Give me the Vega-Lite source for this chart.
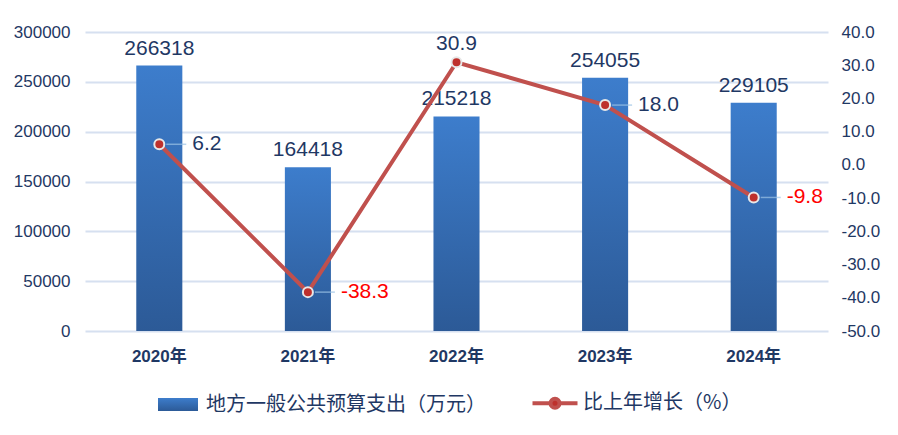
{
  "$schema": "https://vega.github.io/schema/vega-lite/v6.json",
  "width": 743,
  "height": 299,
  "autosize": {"type": "none"},
  "padding": {"left": 85, "top": 32, "right": 70, "bottom": 104},
  "background": "white",
  "config": {
    "view": {"stroke": null},
    "font": "Liberation Sans",
    "locale": {"number": {"decimal": ".", "thousands": ",", "grouping": [3], "currency": ["$", ""], "minus": "-"}},
    "axis": {"domain": false, "ticks": false, "title": null, "labelColor": "#1F3864", "labelOverlap": false}
  },
  "data": {
    "values": [
      {"year": "2020年", "value": 266318, "growth": 6.2},
      {"year": "2021年", "value": 164418, "growth": -38.3},
      {"year": "2022年", "value": 215218, "growth": 30.9},
      {"year": "2023年", "value": 254055, "growth": 18.0},
      {"year": "2024年", "value": 229105, "growth": -9.8}
    ]
  },
  "encoding": {
    "x": {
      "field": "year", "type": "nominal", "sort": null,
      "scale": {"paddingInner": 0.69, "paddingOuter": 0.345},
      "axis": {"labelAngle": 0, "labelFont": "Liberation Sans, Noto Sans CJK SC", "labelFontWeight": "bold", "labelFontSize": 17, "labelPadding": 17}
    }
  },
  "layer": [
    {
      "encoding": {
        "y": {
          "field": "value", "type": "quantitative",
          "scale": {"domain": [0, 300000], "nice": false},
          "axis": {"orient": "left", "values": [0, 50000, 100000, 150000, 200000, 250000, 300000], "grid": true, "gridColor": "#D6E0F0", "gridWidth": 2, "labelFontSize": 17, "labelPadding": 15, "labelOverlap": false, "format": "d"}
        }
      },
      "layer": [
        {
          "mark": {
            "type": "bar",
            "color": {"gradient": "linear", "x1": 0, "y1": 0, "x2": 0, "y2": 1, "stops": [{"offset": 0, "color": "#3D7DCC"}, {"offset": 1, "color": "#2C5A97"}]}
          }
        },
        {
          "mark": {"type": "text", "baseline": "bottom", "dy": -7, "fontSize": 21, "color": "#1F3864"},
          "encoding": {
            "text": {"field": "value", "type": "quantitative", "format": "d"}
          }
        }
      ]
    },
    {
      "encoding": {
        "y": {
          "field": "growth", "type": "quantitative",
          "scale": {"domain": [-50, 40], "nice": false},
          "axis": {"orient": "right", "values": [-50, -40, -30, -20, -10, 0, 10, 20, 30, 40], "format": ".1f", "grid": false, "labelFontSize": 17, "labelPadding": 13, "labelOverlap": false}
        }
      },
      "layer": [
        {
          "mark": {"type": "line", "strokeWidth": 4},
          "encoding": {
            "color": {
              "datum": "比上年增长（%）",
              "scale": {
                "domain": ["地方一般公共预算支出（万元）", "比上年增长（%）"],
                "range": ["#3670BA", "#C0504D"]
              },
              "legend": {
                "title": null,
                "orient": "none",
                "legendX": 83,
                "legendY": 361,
                "direction": "horizontal",
                "columnPadding": 38,
                "labelFont": "Noto Sans CJK SC",
                "labelFontSize": 20,
                "labelColor": "#1F3864",
                "labelLimit": 400,
                "labelOffset": 18,
                "symbolSize": 2025,
                "encode": {
                  "symbols": {
                    "update": {
                      "shape": {"signal": "datum.value === '比上年增长（%）' ? 'M-1,0H-0.25M0.25,0H1M0.2,0A0.2,0.2 0 1,1 -0.2,0A0.2,0.2 0 1,1 0.2,0Z' : 'M-1,-0.33H1V0.33H-1Z'"},
                      "size": {"signal": "datum.value === '比上年增长（%）' ? 2025 : 1600"},
                      "strokeWidth": {"signal": "datum.value === '比上年增长（%）' ? 4 : 0"},
                      "stroke": {"signal": "datum.value === '比上年增长（%）' ? '#C0504D' : 'transparent'"},
                      "fill": {"signal": "datum.value === '比上年增长（%）' ? '#BE302C' : {gradient: 'linear', x1: 0, y1: 0, x2: 0, y2: 1, stops: [{offset: 0, color: '#3D7DCC'}, {offset: 1, color: '#2C5A97'}]}"},
                      "opacity": {"value": 1}
                    }
                  }
                }
              }
            }
          }
        },
        {
          "transform": [{"filter": "datum.year !== '2022年'"}],
          "mark": {"type": "tick", "orient": "horizontal", "size": 20, "thickness": 1.5, "xOffset": 17, "color": "#9DC3E6"}
        },
        {
          "mark": {"type": "point", "filled": true, "size": 100, "fill": "#BE302C", "stroke": "#E8E8E8", "strokeWidth": 2, "opacity": 1}
        },
        {
          "transform": [{"filter": "datum.year !== '2022年'"}],
          "mark": {"type": "text", "align": "left", "baseline": "middle", "dx": 33, "fontSize": 21},
          "encoding": {
            "text": {"field": "growth", "type": "quantitative", "format": ".1f"},
            "color": {"condition": {"test": "datum.growth < 0", "value": "#FF0000"}, "value": "#1F3864"}
          }
        },
        {
          "transform": [{"filter": "datum.year === '2022年'"}],
          "mark": {"type": "text", "align": "center", "baseline": "middle", "dy": -18, "fontSize": 21, "color": "#1F3864"},
          "encoding": {
            "text": {"field": "growth", "type": "quantitative", "format": ".1f"}
          }
        }
      ]
    }
  ],
  "resolve": {"scale": {"y": "independent"}}
}
